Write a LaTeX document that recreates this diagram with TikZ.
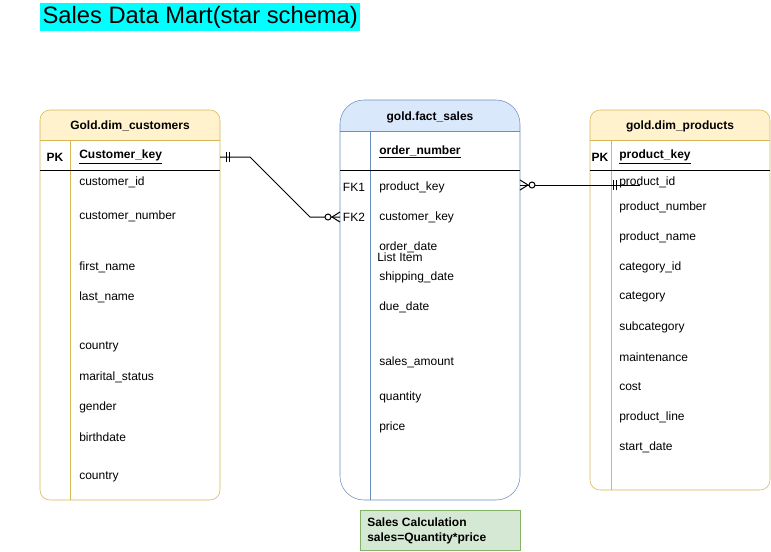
\documentclass[tikz,border=0pt]{standalone}
\usepackage{fontspec}
\setmainfont{Liberation Sans}

\definecolor{titlefill}{HTML}{00FFFF}
\definecolor{dimhead}{HTML}{FFF2CC}
\definecolor{dimline}{HTML}{D6B656}
\definecolor{facthead}{HTML}{DAE8FC}
\definecolor{factline}{HTML}{6C8EBF}
\definecolor{calcfill}{HTML}{D5E8D4}
\definecolor{calcline}{HTML}{82B366}

\begin{document}
\begin{tikzpicture}[x=0.75pt,y=-0.75pt,
  tbl/.style={anchor=north west,inner sep=0pt,outer sep=0pt,fill=white,minimum width=135pt},
  dimtab/.style={tbl,draw=dimline,rounded corners=7.5pt,
    path picture={\fill[dimhead,sharp corners] (path picture bounding box.north west) rectangle ([yshift=-22.5pt]path picture bounding box.north east);}},
  facttab/.style={tbl,draw=factline,rounded corners=18pt,
    path picture={\fill[facthead,sharp corners] (path picture bounding box.north west) rectangle ([yshift=-23.25pt]path picture bounding box.north east);}},
  hdr/.style={font=\fontsize{9}{11}\selectfont\bfseries},
  fld/.style={anchor=west,inner sep=0pt,font=\fontsize{9}{11}\selectfont},
  key/.style={fld,font=\fontsize{9}{11}\selectfont\bfseries},
  rel/.style={line width=0.75pt}]
  \useasboundingbox (0,0) rectangle (771,551);

  \node[fill=titlefill,anchor=north west,inner sep=0pt,minimum width=240pt,minimum height=21pt,
    font=\fontsize{17.8}{20}\selectfont] (title) at (40,3) {Sales Data Mart(star schema)};

  % customers
  \node[dimtab,minimum height=292.5pt] (cust) at (40,110) {};
  \draw[dimline] (40,140) -- (220,140) (70,140) -- (70,500);
  \draw (40,170) -- (220,170);
  \node[hdr] (custhdr) at (130,126) {Gold.dim\_customers};
  \node[hdr] (cpk) at (55,157) {PK};
  \node[key] (ckey) at (79,157) {\underline{Customer\_key}};
  \foreach \y/\t in {182/customer\_id,216/customer\_number,267/first\_name,297/last\_name,
      347/country,377/marital\_status,407/gender,437/birthdate,477/country}
    \node[fld] (c\y) at (79,\y) {\t};

  % fact
  \node[facttab,minimum height=300pt] (fact) at (340,100) {};
  \draw[factline] (340,131) -- (520,131) (370,131) -- (370,500);
  \draw (340,170) -- (520,170);
  \node[hdr] (facthdr) at (430,117) {gold.fact\_sales};
  \node[key] (fkey) at (379,152) {\underline{order\_number}};
  \node[fld,anchor=center] (fk1) at (354,187) {FK1};
  \node[fld,anchor=center] (fk2) at (354,217) {FK2};
  \foreach \y/\t in {187/product\_key,217/customer\_key,247/order\_date,277/shipping\_date,
      307/due\_date,362/sales\_amount,397/quantity,427/price}
    \node[fld] (f\y) at (379,\y) {\t};
  \node[fld] (item) at (377,257) {List Item};

  % products
  \node[dimtab,minimum height=285pt] (prod) at (590,110) {};
  \draw[dimline] (590,140) -- (770,140) (611,140) -- (611,490);
  \draw (590,170) -- (770,170);
  \node[hdr] (prodhdr) at (680,126) {gold.dim\_products};
  \node[hdr] (ppk) at (600,157) {PK};
  \node[key] (pkey) at (619,157) {\underline{product\_key}};
  \foreach \y/\t in {182/product\_id,207/product\_number,237/product\_name,267/category\_id,
      297/category,327/subcategory,357/maintenance,387/cost,417/product\_line,447/start\_date}
    \node[fld] (p\y) at (619,\y) {\t};

  % relations
  \draw[rel] (cust.east |- ckey) -- (250,157) -- (310,217) -- (fact.west |- fk2);
  \draw[rel] (cust.east |- ckey) ++(6,-5) -- ++(0,10) ++(3,0) -- ++(0,-10);
  \draw[rel] (fact.west |- fk2) ++(0,-5) -- ++(-8,5) -- ++(8,5);
  \draw[rel,fill=white] (fact.west |- fk2) ++(-12,0) circle[radius=2.25pt];

  \coordinate (pend) at (640,185);
  \draw[rel] (fact.east |- pend) -- (pend);
  \draw[rel] (fact.east |- pend) ++(0,-5) -- ++(8,5) -- ++(-8,5);
  \draw[rel,fill=white] (fact.east |- pend) ++(12,0) circle[radius=2.25pt];
  \draw[rel] (pend) ++(-27,-5) -- ++(0,10) ++(3,0) -- ++(0,-10);

  % calc note
  \node[draw=calcline,fill=calcfill,anchor=north west,inner sep=0pt,outer sep=0pt,
    minimum width=120pt,minimum height=30pt] (calc) at (360,510) {};
  \node[key,align=left] (calctxt) at (367,531) {Sales Calculation\\sales=Quantity*price};
\end{tikzpicture}
\end{document}
